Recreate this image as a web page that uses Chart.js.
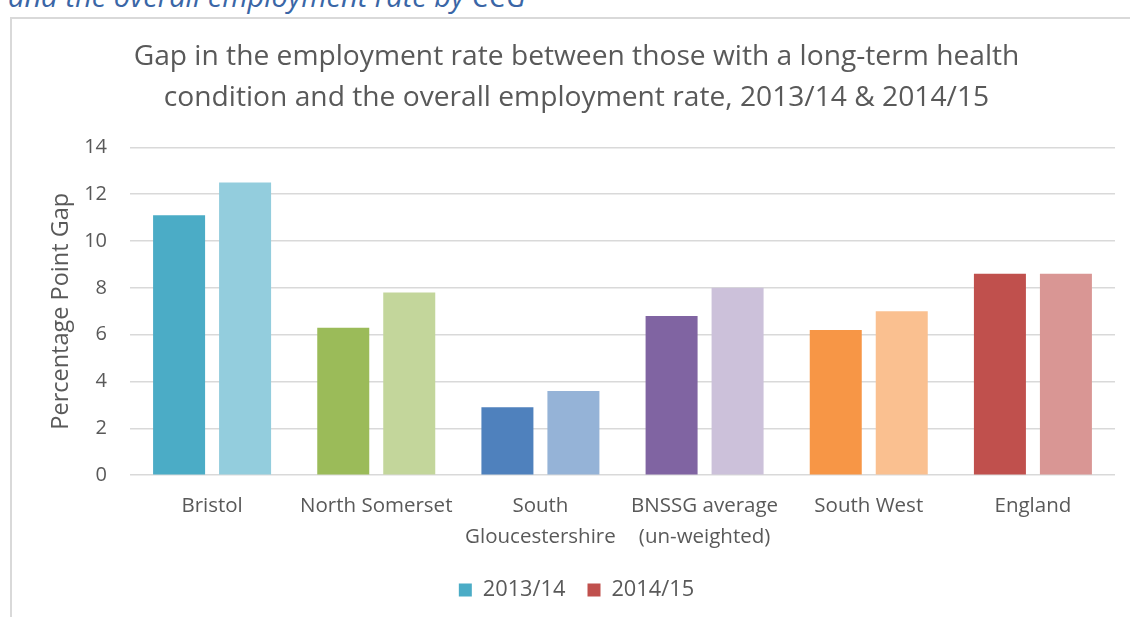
<!DOCTYPE html>
<html>
<head>
<meta charset="utf-8">
<script src="https://cdn.jsdelivr.net/npm/chart.js@4.4.1/dist/chart.umd.min.js"></script>
<style>
  html, body { margin: 0; padding: 0; background: #ffffff; overflow: hidden; }
  body { width: 1130px; height: 617px; position: relative; }
  #caption { position: absolute; left: 8px; top: -19px; font-family: "Open Sans", sans-serif; font-style: italic; font-size: 29px; line-height: 30px; color: #3A66A6; white-space: nowrap; }
  #box { position: absolute; left: 10px; top: 17px; width: 1130px; height: 620px; border-top: 2px solid #d9d9d9; border-left: 2px solid #d9d9d9; box-sizing: border-box; }
  #wrap { position: absolute; left: 11px; top: 17px; width: 1119px; height: 600px; }
</style>
</head>
<body>
<div id="caption">and the overall employment rate by CCG</div>
<div id="box"></div>
<div id="wrap"><canvas id="c"></canvas></div>
<script>
const categories = ["Bristol", "North Somerset", ["South", "Gloucestershire"], ["BNSSG average", "(un-weighted)"], "South West", "England"];
const seriesNames = ["2013/14", "2014/15"];
const values2013 = [11.1, 6.3, 2.9, 6.8, 6.2, 8.6];
const values2014 = [12.5, 7.8, 3.6, 8.0, 7.0, 8.6];
const colors2013 = ["#4BACC6", "#9BBB59", "#4F81BD", "#8064A2", "#F79646", "#C0504D"];
const colors2014 = ["#93CDDD", "#C3D69B", "#95B3D7", "#CCC1DA", "#FAC090", "#D99694"];
const legendColors = ["#4BACC6", "#C0504D"];
const yTicks = [0, 2, 4, 6, 8, 10, 12, 14];
const titleLines = ["Gap in the employment rate between those with a long-term health", "condition and the overall employment rate, 2013/14 & 2014/15"];
const yTitle = "Percentage Point Gap";

const FONT = '"Open Sans", sans-serif';
const GREY = '#595959';

new Chart(document.getElementById('c'), {
  type: 'bar',
  data: {
    labels: categories,
    datasets: [
      { label: seriesNames[0], data: values2013, backgroundColor: colors2013, borderWidth: 0 },
      { label: seriesNames[1], data: values2014, backgroundColor: colors2014, borderWidth: 0 }
    ]
  },
  options: {
    responsive: true,
    maintainAspectRatio: false,
    animation: false,
    devicePixelRatio: 1,
    datasets: { bar: { categoryPercentage: 0.804, barPercentage: 0.788 } },
    layout: { padding: { left: 27, right: 15, top: 0, bottom: 6 } },
    plugins: {
      tooltip: { enabled: false },
      title: {
        display: true,
        text: titleLines,
        color: GREY,
        font: { family: FONT, size: 28.2, weight: 'normal', lineHeight: 1.45 },
        padding: { top: 19.5, bottom: 29 }
      },
      legend: {
        position: 'bottom',
        labels: {
          color: GREY,
          font: { family: FONT, size: 21.8 },
          boxWidth: 13,
          boxHeight: 13,
          padding: 22,
          generateLabels: (chart) => chart.data.datasets.map((ds, i) => ({
            text: ds.label,
            fillStyle: legendColors[i],
            strokeStyle: legendColors[i],
            lineWidth: 0,
            hidden: false,
            datasetIndex: i,
            fontColor: GREY
          }))
        }
      }
    },
    scales: {
      x: {
        grid: { display: false },
        border: { display: false },
        afterFit: (scale) => { scale.height = 82; },
        ticks: { color: GREY, font: { family: FONT, size: 20.5, lineHeight: 1.5 }, padding: 8, maxRotation: 0, autoSkip: false }
      },
      y: {
        min: 0,
        max: 14,
        afterBuildTicks: (scale) => { scale.ticks = yTicks.map(v => ({ value: v })); },
        afterFit: (scale) => { scale.width = 92; },
        grid: { color: '#d9d9d9', lineWidth: 1.5, drawTicks: false },
        border: { display: false },
        ticks: { color: GREY, font: { family: FONT, size: 20 }, padding: 23 },
        title: { display: true, text: yTitle, color: GREY, font: { family: FONT, size: 23.5 }, padding: { top: 9, bottom: 0 } }
      }
    }
  }
});
</script>
</body>
</html>
